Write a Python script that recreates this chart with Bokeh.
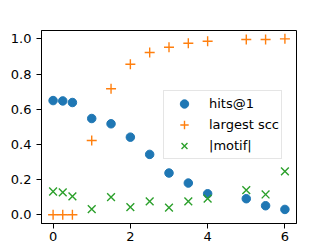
from bokeh.plotting import figure
from bokeh.models import FixedTicker, PrintfTickFormatter, Legend
from bokeh.embed import file_html
from bokeh.resources import INLINE

hits_x = [0, 0.25, 0.5, 1, 1.5, 2, 2.5, 3, 3.5, 4, 5, 5.5, 6]
hits_y = [0.649, 0.647, 0.638, 0.547, 0.517, 0.441, 0.343, 0.237, 0.180, 0.119, 0.091, 0.051, 0.030]
scc_y = [0.0, 0.0, 0.0, 0.422, 0.716, 0.856, 0.922, 0.952, 0.975, 0.986, 0.996, 0.996, 1.0]
motif_y = [0.132, 0.127, 0.104, 0.032, 0.100, 0.043, 0.076, 0.040, 0.076, 0.091, 0.140, 0.115, 0.246]
x_ticks = [0, 2, 4, 6]
y_ticks = [0.0, 0.2, 0.4, 0.6, 0.8, 1.0]

FONT = "DejaVu Sans"

p = figure(width=329, height=251, output_backend="svg", toolbar_location=None,
           x_range=(-0.3, 6.3), y_range=(-0.05, 1.0475),
           min_border_left=41, min_border_right=33, min_border_top=30, min_border_bottom=28)
p.xgrid.visible = False
p.ygrid.visible = False
p.outline_line_color = "black"
p.outline_line_width = 1
p.background_fill_color = "white"
p.border_fill_color = "white"

for ax in (p.xaxis[0], p.yaxis[0]):
    ax.axis_line_color = "black"
    ax.major_tick_line_color = "black"
    ax.major_tick_out = 5
    ax.major_tick_in = 0
    ax.minor_tick_line_color = None
    ax.major_label_text_font = FONT
    ax.major_label_text_font_size = "13px"
    ax.major_label_text_color = "black"

p.xaxis[0].ticker = FixedTicker(ticks=x_ticks)
p.yaxis[0].ticker = FixedTicker(ticks=y_ticks)
p.yaxis[0].formatter = PrintfTickFormatter(format="%.1f")
p.xaxis[0].major_label_standoff = 3
p.yaxis[0].major_label_standoff = 5

r1 = p.scatter(hits_x, hits_y, marker="circle", size=8.5, color="#1f77b4")
r2 = p.scatter(hits_x, scc_y, marker="cross", size=10, line_color="#ff7f0e", line_width=1.4)
r3 = p.scatter(hits_x, motif_y, marker="x", size=11, line_color="#2ca02c", line_width=1.4)

legend = Legend(items=[("hits@1", [r1]), ("largest scc", [r2]), ("|motif|", [r3])],
                location=(122, 64))
legend.label_text_font = FONT
legend.label_text_font_size = "13px"
legend.label_text_color = "black"
legend.border_line_color = "#cccccc"
legend.border_line_width = 1
legend.background_fill_alpha = 0.8
legend.padding = 2
legend.spacing = -1
legend.glyph_width = 36
legend.glyph_height = 21
legend.label_height = 21
legend.label_standoff = 7
legend.margin = 0
p.add_layout(legend, "center")

open("out.html", "w").write(file_html(p, INLINE))
